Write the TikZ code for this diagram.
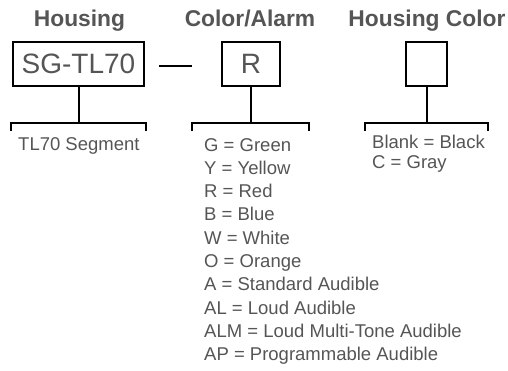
\documentclass[tikz,border=0pt]{standalone}
\usepackage{fontspec}
\setmainfont{Liberation Sans}
\definecolor{labelgray}{HTML}{555555}
\tikzset{
	heading/.style={anchor=base, font=\fontsize{22.8}{24}\selectfont\bfseries, text=labelgray, inner sep=0pt},
	codebox/.style={draw=black, line width=2pt, inner sep=0pt, font=\fontsize{28}{30}\selectfont, text=labelgray, minimum height=44pt},
	option/.style={anchor=base west, font=\fontsize{18.5}{20}\selectfont, text=labelgray, inner sep=0pt},
	stem/.style={line width=2pt},
}
\begin{document}
\begin{tikzpicture}[x=1pt,y=-1pt]
	\useasboundingbox (0,0) rectangle (508,370);
	% Column headings
	\node[heading] (hHousing) at (79.5,26) {Housing};
	\node[heading] (hAlarm) at (250,26) {Color/Alarm};
	\node[heading] (hColor) at (427,26) {Housing Color};
	
	% Code boxes
	\node[codebox, minimum width=131pt] (bHousing) at (78.5,64) {SG-TL70};
	\node[codebox, minimum width=58pt] (bAlarm) at (251,64) {R};
	\node[codebox, minimum width=41pt] (bColor) at (426.5,64) {};
	
	% Separator dash
	\coordinate (dashL) at (159,66);
	\coordinate (dashR) at (192,66);
	\draw[stem] (dashL) -- (dashR);
	
	% Brackets
	\coordinate (kHousing) at (78.5,123);
	\coordinate (kAlarm) at (251,123);
	\coordinate (kColor) at (426.5,123);
	\draw[stem] (bHousing.south) -- (kHousing);
	\draw[stem] (bAlarm.south) -- (kAlarm);
	\draw[stem] (bColor.south) -- (kColor);
	\draw[stem] (11,131) -- (11,123) -- (146,123) -- (146,131);
	\draw[stem] (192,131) -- (192,123) -- (309,123) -- (309,131);
	\draw[stem] (365,131) -- (365,123) -- (488,123) -- (488,131);
	
	% Housing options
	\node[option] (oSegment) at (18,150) {TL70 Segment};
	
	% Color/Alarm options
	\node[option] (oG) at (204,151) {G = Green};
	\node[option] (oY) at (204,174.3) {Y = Yellow};
	\node[option] (oR) at (204,197.6) {R = Red};
	\node[option] (oB) at (204,220.9) {B = Blue};
	\node[option] (oW) at (204,244.2) {W = White};
	\node[option] (oO) at (204,267.5) {O = Orange};
	\node[option] (oA) at (204,290.8) {A = Standard Audible};
	\node[option] (oAL) at (204,314.1) {AL = Loud Audible};
	\node[option] (oALM) at (204,337.4) {ALM = Loud Multi-Tone Audible};
	\node[option] (oAP) at (204,360.7) {AP = Programmable Audible};
	
	% Housing color options
	\node[option] (oBlank) at (372,148) {Blank = Black};
	\node[option] (oGray) at (372,168.5) {C = Gray};
\end{tikzpicture}
\end{document}
